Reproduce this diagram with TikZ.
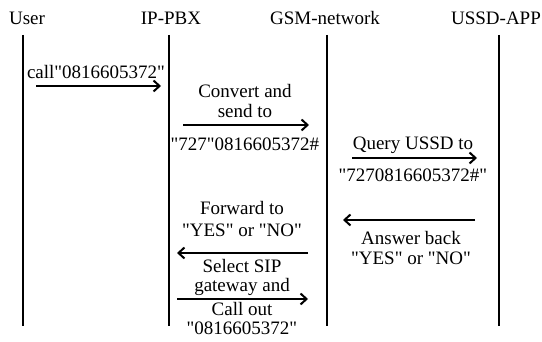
\documentclass[tikz,border=0pt]{standalone}
\usepackage{fontspec}
\setmainfont{Liberation Serif}[Ligatures=TeXOff]
\usetikzlibrary{arrows.meta}
\begin{document}
\begin{tikzpicture}[x=1pt,y=-1pt,
  every node/.style={font=\fontsize{19}{20}\selectfont, inner sep=0pt, align=center},
  life/.style={line width=1.8pt},
  msg/.style={line width=1.7pt, -{Straight Barb[length=6pt,width=11pt,line width=2pt]}}]
\useasboundingbox (0,0) rectangle (542,342);
% headers
\node (hU) at (27,18) {User};
\node (hP) at (171,18) {IP-PBX};
\node (hG) at (325,18) {GSM-network};
\node (hA) at (496,18) {USSD-APP};
% lifelines
\coordinate (uT) at (23,35);   \coordinate (uB) at (23,326);
\coordinate (pT) at (169,35);  \coordinate (pB) at (169,326);
\coordinate (gT) at (327,35);  \coordinate (gB) at (327,326);
\coordinate (aT) at (499,35);  \coordinate (aB) at (499,326);
\draw[life] (uT) -- (uB);
\draw[life] (pT) -- (pB);
\draw[life] (gT) -- (gB);
\draw[life] (aT) -- (aB);
% message 1
\coordinate (m1s) at (36,86);  \coordinate (m1e) at (161,86);
\draw[msg] (m1s) -- (m1e);
\node (l1) at (96,72) {call"0816605372"};
% message 2
\coordinate (m2s) at (183,125);  \coordinate (m2e) at (309,125);
\draw[msg] (m2s) -- (m2e);
\node (l2a) at (245,101) {Convert and\\send to};
\node (l2b) at (245,144) {"727"0816605372\#};
% message 3
\coordinate (m3s) at (352,158);  \coordinate (m3e) at (477,158);
\draw[msg] (m3s) -- (m3e);
\node (l3a) at (413,145) {Query USSD to};
\node (l3b) at (413,175) {"7270816605372\#"};
% message 4
\coordinate (m4s) at (475,220);  \coordinate (m4e) at (343,220);
\draw[msg] (m4s) -- (m4e);
\node (l4) at (411,248) {Answer back\\"YES" or "NO"};
% message 5
\coordinate (m5s) at (308,253);  \coordinate (m5e) at (177,253);
\draw[msg] (m5s) -- (m5e);
\node (l5) at (242,219) {Forward to\\[2pt]"YES" or "NO"};
% message 6
\coordinate (m6s) at (177,299);  \coordinate (m6e) at (308,299);
\draw[msg] (m6s) -- (m6e);
\node (l6a) at (242,277) {Select SIP\\[-1pt]gateway and};
\node (l6b) at (242,319) {Call out\\[-1pt]"0816605372"};
\end{tikzpicture}
\end{document}
